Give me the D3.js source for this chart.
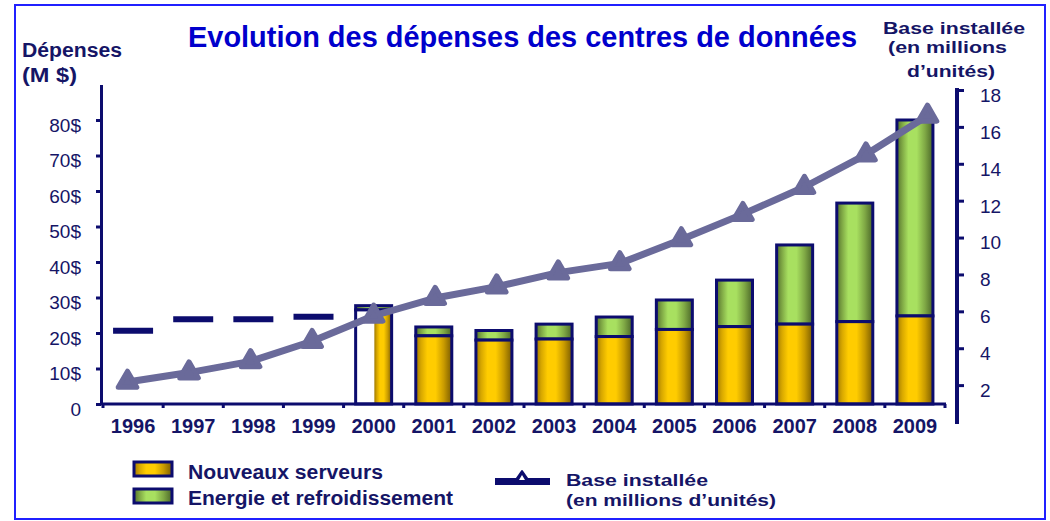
<!DOCTYPE html>
<html><head><meta charset="utf-8">
<script src="https://cdn.jsdelivr.net/npm/d3@7"></script>
<style>body{margin:0;background:#fff}svg{display:block}</style>
</head><body>
<svg id="chart" width="1050" height="521"></svg>
<script>
// ---- data ----
const years = ["1996","1997","1998","1999","2000","2001","2002","2003","2004","2005","2006","2007","2008","2009"];
const serveurs = [null,null,null,null,26.5,19.2,18.0,18.3,19.0,21.0,21.8,22.5,23.2,24.8];
const energie  = [null,null,null,null,1.2,2.5,2.7,4.2,5.5,8.3,13.1,22.3,33.4,55.2];
const depensesAnterieures = [20.6,23.9,23.9,24.6,null,null,null,null,null,null,null,null,null,null];
const baseInstallee = [2.17,2.68,3.29,4.38,5.76,6.72,7.34,8.1,8.6,9.9,11.27,12.74,14.5,16.6];
const leftTicks = [0,10,20,30,40,50,60,70,80];
const leftTickLabels = ["0","10$","20$","30$","40$","50$","60$","70$","80$"];
const rightTicks = [2,4,6,8,10,12,14,16,18];
const titleText = "Evolution des dépenses des centres de données";
const legendLabels = ["Nouveaux serveurs","Energie et refroidissement"];
const lineLegend = ["Base installée","(en millions d’unités)"];

// ---- styles ----
const NAVY = "#0c0c6e", TXT = "#151566", LINEC = "#6a6a9a";
const FONT = "'Liberation Sans', Arial, sans-serif";

const svg = d3.select("#chart");
svg.append("rect").attr("width",1050).attr("height",521).attr("fill","#fff");
svg.append("rect").attr("x",15).attr("y",5).attr("width",1030).attr("height",514)
  .attr("fill","none").attr("stroke","#2020ff").attr("stroke-width",2);

const defs = svg.append("defs");
function grad(id, stops){
  const g = defs.append("linearGradient").attr("id",id).attr("x1","0").attr("x2","1").attr("y1","0").attr("y2","0");
  stops.forEach(s=>g.append("stop").attr("offset",s[0]).attr("stop-color",s[1]));
}
grad("gY", [["0%","#a07a00"],["15%","#d8a800"],["32%","#ffcc00"],["55%","#ffcc00"],["78%","#c89a00"],["100%","#7a5c00"]]);
grad("gG", [["0%","#54712c"],["15%","#7fa845"],["32%","#a8e060"],["55%","#a8e060"],["78%","#7fa845"],["100%","#4a6628"]]);

// ---- scales ----
const x = d3.scaleBand().domain(years).range([103,945]).paddingInner(0.4).paddingOuter(0.2);
const xLine = d3.scalePoint().domain(years).range([127.5,927.5]);
const yL = d3.scaleLinear().domain([0,90]).range([404,84.5]);
const yR = d3.scaleLinear().domain([0,18]).range([422,90]);
const step = (945-103)/years.length;
const center = d => x(d) + x.bandwidth()/2;
const barW = 36;

// ---- bars ----
const rows = years.map((y,i)=>({y, s:serveurs[i], e:energie[i], d:depensesAnterieures[i], b:baseInstallee[i]}));
const barG = svg.append("g");
rows.filter(r=>r.s!==null).forEach(r=>{
  const cx = center(r.y), x0 = cx - barW/2;
  const ys = yL(r.s), yt = yL(r.s + r.e);
  barG.append("rect").attr("x",x0).attr("y",yt).attr("width",barW).attr("height",ys-yt)
    .attr("fill","url(#gG)").attr("stroke",NAVY).attr("stroke-width",3);
  if (r.y === "2000") {
    barG.append("rect").attr("x",x0).attr("y",ys).attr("width",barW).attr("height",yL(0)-ys)
      .attr("fill","#fff");
    barG.append("rect").attr("x",x0+barW*0.52).attr("y",ys).attr("width",barW*0.48).attr("height",yL(0)-ys)
      .attr("fill","url(#gY)");
    barG.append("rect").attr("x",x0).attr("y",ys).attr("width",barW).attr("height",yL(0)-ys)
      .attr("fill","none").attr("stroke",NAVY).attr("stroke-width",3);
  } else {
    barG.append("rect").attr("x",x0).attr("y",ys).attr("width",barW).attr("height",yL(0)-ys)
      .attr("fill","url(#gY)").attr("stroke",NAVY).attr("stroke-width",3);
  }
});

// dashes for earlier years
svg.append("g").selectAll("line").data(rows.filter(r=>r.d!==null)).join("line")
  .attr("x1",d=>center(d.y)-20).attr("x2",d=>center(d.y)+20)
  .attr("y1",d=>yL(d.d)).attr("y2",d=>yL(d.d))
  .attr("stroke",NAVY).attr("stroke-width",6);

// ---- axes ----
const axL = svg.append("g").attr("transform","translate(101,0)")
  .call(d3.axisLeft(yL).tickValues(leftTicks).tickFormat((d,i)=>leftTickLabels[i]).tickSizeInner(5).tickSizeOuter(0).tickPadding(15));
axL.select(".domain").attr("stroke",NAVY).attr("stroke-width",3);
axL.selectAll(".tick line").attr("stroke",NAVY).attr("stroke-width",3);
axL.selectAll(".tick text").attr("fill",TXT).attr("font-family",FONT).attr("font-size",19).attr("dy","0.6em");

const axR = svg.append("g").attr("transform","translate(957,0)")
  .call(d3.axisRight(yR).tickValues(rightTicks).tickSizeInner(7).tickSizeOuter(0).tickPadding(16));
axR.select(".domain").remove();
axR.append("line").attr("x1",0).attr("x2",0).attr("y1",88).attr("y2",424).attr("stroke",NAVY).attr("stroke-width",4);
axR.selectAll(".tick line").attr("stroke",NAVY).attr("stroke-width",3);
axR.selectAll(".tick text").attr("fill",TXT).attr("font-family",FONT).attr("font-size",19).attr("dy","0.6em");

const axB = svg.append("g").attr("transform","translate(0,404)")
  .call(d3.axisBottom(x).tickSize(0).tickPadding(15));
axB.select(".domain").remove();
axB.selectAll(".tick text").attr("fill",TXT).attr("font-family",FONT).attr("font-size",20).attr("font-weight","bold").attr("dy","0.71em");
axB.append("line").attr("x1",101).attr("x2",946).attr("y1",0).attr("y2",0).attr("stroke",NAVY).attr("stroke-width",3);
axB.selectAll("line.bt").data(d3.range(years.length+1)).join("line").attr("class","bt")
  .attr("x1",i=>103+i*step).attr("x2",i=>103+i*step).attr("y1",0).attr("y2",4)
  .attr("stroke",NAVY).attr("stroke-width",3);

// ---- line series ----
const lineGen = d3.line().x(d=>xLine(d.y)).y(d=>yR(d.b));
svg.append("path").datum(rows).attr("d",lineGen).attr("fill","none")
  .attr("stroke",LINEC).attr("stroke-width",7).attr("stroke-linejoin","round");
const tri = d3.symbol().type(d3.symbolTriangle).size(150);
svg.append("g").selectAll("path").data(rows).join("path")
  .attr("transform",d=>`translate(${xLine(d.y)},${yR(d.b)})`)
  .attr("d",tri).attr("fill",LINEC).attr("stroke",LINEC).attr("stroke-width",5).attr("stroke-linejoin","round");

// ---- texts ----
function txt(t, xx, yy, size, len, opts={}){
  const e = svg.append("text").attr("x",xx).attr("y",yy).text(t)
    .attr("font-family",FONT).attr("font-size",size).attr("font-weight",opts.w||"bold")
    .attr("fill",opts.c||TXT).attr("text-anchor",opts.a||"start");
  if (len) e.attr("textLength",len).attr("lengthAdjust","spacingAndGlyphs");
  return e;
}
txt(titleText, 522.5, 47, 29.5, 669, {c:"#0000cc", a:"middle"});
txt("Dépenses", 22, 57, 19.5, 100);
txt("(M $)", 22, 82, 19.5, 55);
txt("Base installée", 883, 34, 17, 142);
txt("(en millions", 888, 53, 17, 119);
txt("d’unités)", 907, 77, 17, 88);

// ---- legend ----
const lg = svg.append("g");
[["url(#gY)",462],["url(#gG)",489]].forEach((s,i)=>{
  lg.append("rect").attr("x",134).attr("y",s[1]).attr("width",38).attr("height",14)
    .attr("fill",s[0]).attr("stroke",NAVY).attr("stroke-width",3);
});
txt(legendLabels[0], 188, 479, 20, 195);
txt(legendLabels[1], 188, 505, 20, 265);
lg.append("line").attr("x1",495).attr("x2",550).attr("y1",481.5).attr("y2",481.5).attr("stroke",NAVY).attr("stroke-width",7);
lg.append("path").attr("d","M522,471 L529,481 L515,481 Z").attr("fill",NAVY).attr("stroke",NAVY).attr("stroke-width",2).attr("stroke-linejoin","round");
lg.append("path").attr("d","M522,475 L525,480 L519,480 Z").attr("fill","#fff");
txt(lineLegend[0], 566, 486, 17, 142);
txt(lineLegend[1], 566, 506, 17, 210);
</script>
</body></html>
